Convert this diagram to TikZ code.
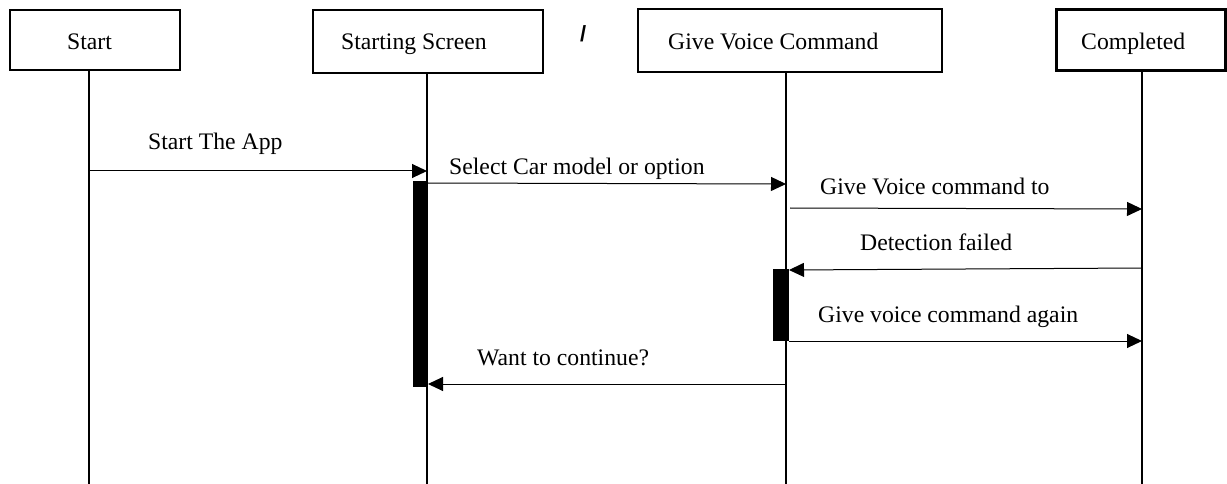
\documentclass[tikz,border=0pt]{standalone}
\usepackage{fontspec}
\setmainfont{Liberation Serif}
\newfontfamily\slashfont{Liberation Sans}
\usetikzlibrary{arrows.meta}
\begin{document}
\begin{tikzpicture}[x=1pt,y=-1pt,
  actor/.style={draw,line width=2.4pt,inner sep=0pt},
  lbl/.style={anchor=base west,inner sep=0pt,font=\fontsize{23.7}{28}\selectfont},
  life/.style={line width=2.2pt},
  msg/.style={line width=1pt,-{Triangle[length=15pt,width=14pt]}},
  act/.style={fill=black,draw=none}]
\useasboundingbox (0,0) rectangle (1227,484);
% actor boxes
\node[actor,minimum width=170pt,minimum height=60pt] (b1) at (95,40) {};
\node[actor,minimum width=230pt,minimum height=63pt] (b2) at (428,41.5) {};
\node[actor,minimum width=304pt,minimum height=63pt] (b3) at (790,40.5) {};
\node[actor,minimum width=169pt,minimum height=61pt] (b4) at (1141,40) {};
\node[lbl] (t1) at (67,50) {Start};
\node[lbl] (t2) at (341,50) {Starting Screen};
\node[lbl] (t3) at (668,50) {Give Voice Command};
\node[lbl] (t4) at (1081,50) {Completed};
\node[lbl,font=\slashfont\bfseries\fontsize{22}{26}\selectfont] (slash) at (580,42) {/};
% lifelines
\coordinate (l1top) at (89,70);
\coordinate (l1bot) at (89,484);
\coordinate (l2top) at (427,73);
\coordinate (l2bot) at (427,484);
\coordinate (l3top) at (786,72);
\coordinate (l3bot) at (786,484);
\coordinate (l4top) at (1142,70);
\coordinate (l4bot) at (1142,484);
\draw[life] (l1top) -- (l1bot);
\draw[life] (l2top) -- (l2bot);
\draw[life] (l3top) -- (l3bot);
\draw[life] (l4top) -- (l4bot);
% activations
\node[act,minimum width=15pt,minimum height=206pt,inner sep=0pt] (a2) at (420.5,284) {};
\node[act,minimum width=16pt,minimum height=72pt,inner sep=0pt] (a3) at (781,305) {};
% message end points
\coordinate (m1s) at (89,171);
\coordinate (m1e) at (427,171);
\coordinate (m2s) at (428,183);
\coordinate (m2e) at (786,184);
\coordinate (m3s) at (790,208);
\coordinate (m3e) at (1142,209);
\coordinate (m4s) at (1142,268);
\coordinate (m4e) at (789,270);
\coordinate (m5s) at (789,341);
\coordinate (m5e) at (1142,341);
\coordinate (m6s) at (786,384);
\coordinate (m6e) at (428,384);
\draw[msg] (m1s) -- (m1e);
\draw[msg] (m2s) -- (m2e);
\draw[msg] (m3s) -- (m3e);
\draw[msg] (m4s) -- (m4e);
\draw[msg] (m5s) -- (m5e);
\draw[msg] (m6s) -- (m6e);
% message labels
\node[lbl] (ml1) at (148,150) {Start The App};
\node[lbl] (ml2) at (449,175) {Select Car model or option};
\node[lbl] (ml3) at (820,194) {Give Voice command to};
\node[lbl] (ml4) at (860,250) {Detection failed};
\node[lbl] (ml5) at (818,322) {Give voice command again};
\node[lbl] (ml6) at (477,365) {Want to continue?};
\end{tikzpicture}
\end{document}
